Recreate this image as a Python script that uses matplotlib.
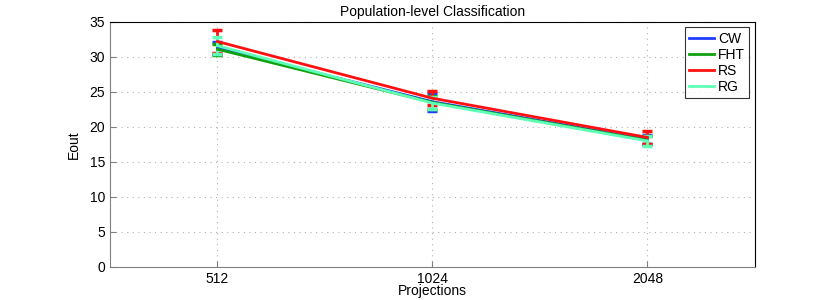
import numpy as np
import matplotlib
matplotlib.use('Agg')
import matplotlib.pyplot as plt
from matplotlib.lines import Line2D

plt.rcParams['font.family'] = ['Liberation Sans', 'DejaVu Sans']

# data
projections = ['512', '1024', '2048']
cw = [31.3, 23.6, 18.2]
cw_err = [0.9, 1.3, 0.7]
fht = [31.1, 23.5, 18.1]
fht_err = [0.8, 0.9, 0.6]
rs = [32.2, 24.1, 18.5]
rs_err = [1.6, 1.0, 0.9]
rg = [31.6, 23.4, 18.0]
rg_err = [1.2, 0.9, 0.7]

series = [
    ('CW', cw, cw_err, '#1f3dff'),
    ('FHT', fht, fht_err, '#10a010'),
    ('RS', rs, rs_err, '#ff1010'),
    ('RG', rg, rg_err, '#60ffb8'),
]

fig = plt.figure(figsize=(8.3, 3.0), dpi=100)
ax = fig.add_axes([0.1325, 0.11, 0.777, 0.817])

x = np.arange(1, len(projections) + 1)
handles = []
for name, vals, errs, col in series:
    ax.errorbar(x, vals, yerr=errs, color=col, lw=2.0, elinewidth=2.0,
                capsize=3.5, capthick=2.5)
    handles.append(Line2D([], [], color=col, lw=2.0, label=name))

ax.set_xlim(0.5, 3.5)
ax.set_ylim(0, 35)
ax.set_yticks(np.arange(0, 36, 5))
ax.set_xticks(x)
ax.set_xticklabels(projections)
ax.tick_params(direction='in', labelsize=10, length=4, color='#808080')
ax.grid(True, linestyle=(0, (1, 4)), color='#b0b0b0', linewidth=0.8)
for side in ['left', 'bottom']:
    ax.spines[side].set_color('#808080')
for side in ['top', 'right']:
    ax.spines[side].set_color('black')

ax.set_title('Population-level Classification', fontsize=10, pad=4)
ax.set_xlabel('Projections', fontsize=10, labelpad=-1)
ax.set_ylabel('Eout', fontsize=10, labelpad=6)

leg = ax.legend(handles=handles, loc='upper right', fontsize=10, fancybox=False,
                edgecolor='black', handlelength=1.8, borderpad=0.3,
                labelspacing=0.15, handletextpad=0.3, borderaxespad=0.4)
leg.get_frame().set_linewidth(0.8)

fig.savefig('out.png', dpi=100)
